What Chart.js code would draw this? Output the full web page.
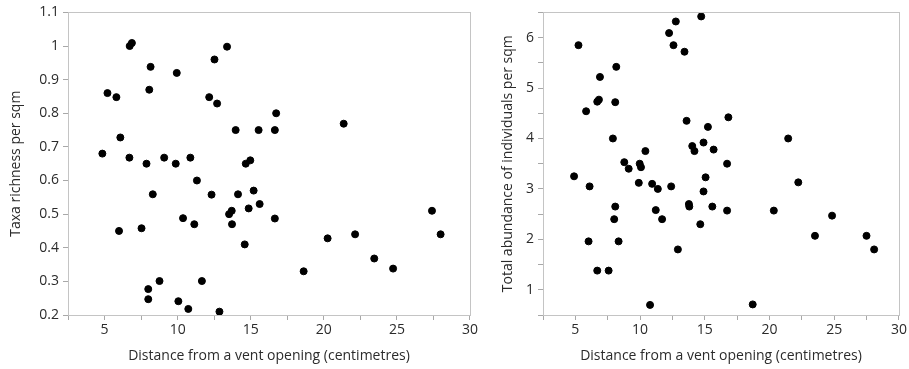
<!DOCTYPE html>
<html>
<head>
<meta charset="utf-8">
<script src="https://cdn.jsdelivr.net/npm/chart.js@4.4.1/dist/chart.umd.min.js"></script>
<style>
    body { margin: 0; background: #fff; }
    .panel { position: absolute; top: 0; height: 369px; }
    #left-panel { left: 0; width: 480px; }
    #right-panel { left: 480px; width: 429px; }
</style>
</head>
<body>
<div class="panel" id="left-panel"><canvas id="richness-chart"></canvas></div>
<div class="panel" id="right-panel"><canvas id="abundance-chart"></canvas></div>
<script>
// distance from vent (cm) and taxa richness
const richnessDistance = [4.85, 5.2, 5.81, 6.08, 6.7, 6.72, 6.87, 7.87, 8.15, 8.06, 9.08, 9.87, 9.94, 10.87,
    11.32, 12.16, 12.52, 12.7, 13.38, 13.97, 14.66, 14.97, 16.74, 15.54, 16.65, 21.36, 8.3, 12.32, 14.13,
    5.99, 7.53, 10.37, 11.14, 13.52, 13.7, 13.72, 14.59, 14.86, 7.99, 7.99, 8.76, 10.05, 10.73, 11.66,
    12.86, 15.2, 15.61, 16.65, 18.62, 20.26, 22.14, 23.45, 24.74, 27.4, 27.99];
const richnessValues = [0.68, 0.86, 0.848, 0.728, 0.668, 1.0, 1.009, 0.65, 0.938, 0.87, 0.668, 0.65, 0.92, 0.668,
    0.6, 0.848, 0.96, 0.829, 0.998, 0.75, 0.65, 0.66, 0.8, 0.75, 0.75, 0.769, 0.559, 0.558, 0.559,
    0.45, 0.458, 0.488, 0.47, 0.5, 0.51, 0.47, 0.41, 0.517, 0.277, 0.247, 0.301, 0.241, 0.218, 0.301,
    0.21, 0.57, 0.53, 0.487, 0.33, 0.428, 0.44, 0.368, 0.338, 0.51, 0.44];

// distance from vent (cm) and total abundance
const abundanceDistance = [4.9, 5.24, 5.83, 6.9, 6.69, 6.82, 8.16, 8.08, 7.9, 8.78, 9.12, 9.97, 10.07, 10.41,
    12.24, 12.76, 12.58, 13.43, 14.72, 13.59, 14.03, 14.2, 14.9, 15.24, 15.06, 16.82, 15.68, 21.44, 16.72,
    6.1, 9.9, 10.93, 11.37, 12.4, 14.9, 13.77, 13.8, 8.08, 8.0, 11.21, 11.7, 14.65, 6.02, 8.34, 12.92,
    6.69, 7.57, 10.77, 22.22, 15.58, 16.72, 20.33, 24.83, 23.51, 27.49, 28.08, 18.7];
const abundanceValues = [3.25, 5.85, 4.54, 5.22, 4.73, 4.77, 5.42, 4.72, 4.0, 3.53, 3.4, 3.5, 3.43, 3.75,
    6.09, 6.32, 5.85, 5.72, 6.42, 4.35, 3.85, 3.75, 3.92, 4.23, 3.23, 4.42, 3.78, 4.0, 3.5,
    3.05, 3.12, 3.1, 3.0, 3.05, 2.95, 2.7, 2.65, 2.65, 2.4, 2.58, 2.4, 2.3, 1.96, 1.96, 1.8,
    1.38, 1.38, 0.7, 3.13, 2.65, 2.57, 2.57, 2.47, 2.07, 2.07, 1.8, 0.71];

const xTitle = 'Distance from a vent opening (centimetres)';
const textColor = '#2b2b2b';
const tickFont = { family: 'Open Sans', size: 14 };
const titleFont = { family: 'Open Sans', size: 14 };

// light box round the plot area
const frame = {
    id: 'frame',
    afterDraw(chart) {
        const a = chart.chartArea;
        const ctx = chart.ctx;
        ctx.save();
        ctx.strokeStyle = '#c4c4c4';
        ctx.lineWidth = 1;
        ctx.strokeRect(Math.round(a.left) + 0.5, Math.round(a.top) + 0.5,
            Math.round(a.right - a.left), Math.round(a.bottom - a.top));
        ctx.restore();
    }
};

function makeChart(id, xs, ys, opts) {
    const points = xs.map((x, i) => ({ x: x, y: ys[i] }));
    return new Chart(document.getElementById(id), {
        type: 'scatter',
        data: {
            datasets: [{
                data: points,
                backgroundColor: '#000',
                borderColor: '#000',
                pointRadius: 3.5,
                pointHoverRadius: 3.5
            }]
        },
        options: {
            responsive: true,
            maintainAspectRatio: false,
            animation: false,
            events: [],
            layout: { padding: { top: 12, right: opts.padRight, bottom: 0, left: 0 } },
            plugins: { legend: { display: false }, tooltip: { enabled: false } },
            scales: {
                x: {
                    min: 2.5,
                    max: 30,
                    afterFit: s => { s.height = 54; },
                    grid: { display: true, drawOnChartArea: false, drawTicks: true, tickLength: 5, color: '#a8a8a8' },
                    border: { color: '#a8a8a8' },
                    ticks: {
                        stepSize: 2.5,
                        color: textColor,
                        font: tickFont,
                        padding: 2,
                        maxRotation: 0,
                        autoSkip: false,
                        callback: v => (v % 5 === 0 ? String(v) : '')
                    },
                    title: { display: true, text: xTitle, color: textColor, font: titleFont, padding: { top: 0, bottom: 5 } }
                },
                y: {
                    min: opts.yMin,
                    max: opts.yMax,
                    afterFit: s => { s.width = opts.yWidth; },
                    grid: { display: true, drawOnChartArea: false, drawTicks: true, tickLength: 5, color: '#a8a8a8' },
                    border: { color: '#a8a8a8' },
                    ticks: {
                        stepSize: opts.yStep,
                        color: textColor,
                        font: tickFont,
                        padding: 4,
                        autoSkip: false,
                        callback: opts.yLabel
                    },
                    title: { display: true, text: opts.yTitle, color: textColor, font: titleFont, padding: { top: opts.yTitlePad, bottom: 0 } }
                }
            }
        },
        plugins: [frame]
    });
}

makeChart('richness-chart', richnessDistance, richnessValues, {
    yMin: 0.2, yMax: 1.1, yStep: 0.1, yWidth: 68, padRight: 8, yTitlePad: 8,
    yTitle: 'Taxa richness per sqm',
    yLabel: v => String(Number(v.toFixed(2)))
});

makeChart('abundance-chart', abundanceDistance, abundanceValues, {
    yMin: 0.5, yMax: 6.5, yStep: 0.5, yWidth: 63, padRight: 10, yTitlePad: 20,
    yTitle: 'Total abundance of individuals per sqm',
    yLabel: v => (Math.abs(v - Math.round(v)) < 1e-6 ? String(Math.round(v)) : '')
});
</script>
</body>
</html>
